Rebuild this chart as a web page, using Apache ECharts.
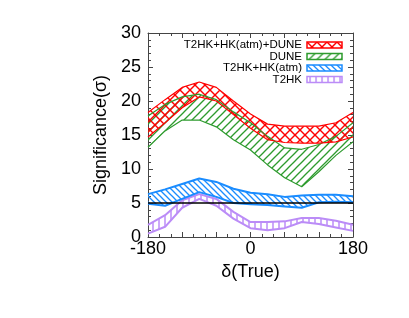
<!DOCTYPE html>
<html><head><meta charset="utf-8">
<script src="https://cdn.jsdelivr.net/npm/echarts@6/dist/echarts.min.js"></script>
<style>html,body{margin:0;padding:0;background:#fff}#c{width:409px;height:318px}</style>
</head><body><div id="c"></div>
<script>
// ---- data ----
const delta = [-180,-150,-120,-90,-60,-30,0,30,60,90,120,150,180];
const comboUpper = [18.3,20.2,22.0,22.8,22.0,20.0,18.1,16.6,16.3,16.3,16.3,16.8,18.3];
const comboLower = [14.7,16.8,19.0,20.6,20.0,18.0,16.0,14.3,13.9,13.8,13.8,14.0,14.7];
const duneUpper  = [17.8,19.5,20.6,21.0,20.2,18.4,16.8,14.8,13.1,12.9,13.6,14.8,16.8];
const duneLower  = [13.2,15.6,17.2,17.2,16.2,14.3,12.8,10.6,8.7,7.4,9.6,12.0,14.0];
const hkUpper    = [6.3,7.0,7.8,8.6,8.1,7.1,6.5,6.3,5.9,6.1,6.2,6.2,6.0];
const hkLower    = [4.9,4.6,5.6,6.6,5.9,5.0,4.8,4.7,4.5,4.3,5.1,5.2,5.1];
const t2hkUpper  = [1.8,3.2,5.4,6.3,5.6,3.7,2.2,2.2,2.3,2.8,2.8,2.4,1.8];
const t2hkLower  = [0.5,1.5,4.3,5.6,4.6,2.7,1.3,1.0,1.3,2.2,1.9,1.4,0.9];
const threshold = 5;
const seriesNames = ['T2HK+HK(atm)+DUNE','DUNE','T2HK+HK(atm)','T2HK'];
const xTickLabels = [-180,0,180];

// ---- patterns ----
function hatch(color, kind, s, lw){
  const c=document.createElement('canvas'); c.width=s; c.height=s;
  const g=c.getContext('2d'); g.strokeStyle=color; g.lineWidth=lw;
  const seg=(a,b,d,e)=>{g.beginPath();g.moveTo(a,b);g.lineTo(d,e);g.stroke();};
  if(kind.indexOf('/')>=0){seg(-1,s+1,s+1,-1);seg(-1,1,1,-1);seg(s-1,s+1,s+1,s-1);}
  if(kind.indexOf('\\')>=0){seg(-1,-1,s+1,s+1);seg(s-1,-1,s+1,1);seg(-1,s-1,1,s+1);}
  if(kind.indexOf('|')>=0){seg(s/2,0,s/2,s);}
  return {image:c, repeat:'repeat'};
}
const colors = ['#ff0000','#2e9b2e','#1a8cff','#bb8cf7'];
const widths = [1.2,1.2,2,2];
const pats = [hatch(colors[0],'/\\',10,1.4), hatch(colors[1],'/',8,1.3), hatch(colors[2],'\\',6,1.3), hatch(colors[3],'|',6,1.5)];
const bands = [[comboLower,comboUpper],[duneLower,duneUpper],[hkLower,hkUpper],[t2hkLower,t2hkUpper]];

const series = [];
[3,2,1,0].forEach(i=>{
  const lo=bands[i][0], up=bands[i][1];
  series.push({type:'custom', name:seriesNames[i], silent:true, z:2+(3-i),
    data: delta.map((d,k)=>[d,lo[k],up[k]]),
    encode:{x:0,y:[1,2]},
    renderItem:(params,api)=>{
      if(params.dataIndex!==0) return null;
      const pts=[];
      for(let k=0;k<delta.length;k++) pts.push(api.coord([delta[k],up[k]]));
      for(let k=delta.length-1;k>=0;k--) pts.push(api.coord([delta[k],lo[k]]));
      return {type:'polygon', shape:{points:pts}, style:{fill:pats[i], stroke:null}};
    }});
  [lo,up].forEach((arr,j)=>{
    series.push({type:'line', name:seriesNames[i]+(j?' upper':' lower'), symbol:'none', silent:true,
      data: delta.map((d,k)=>[d,arr[k]]), lineStyle:{color:colors[i],width:widths[i]}, z:3+(3-i)});
  });
});
series.push({type:'line', name:'5sigma', symbol:'none', silent:true,
  data:[[delta[0],threshold],[delta[delta.length-1],threshold]], lineStyle:{color:'#000',width:1.3}, z:10});

const font = 'Liberation Sans, Arial, Helvetica, sans-serif';
const axisCol = '#444';

// legend drawn as graphic (text right-aligned, swatch on the right)
const legendGraphic = [];
const legRows = [45,56.5,68,79.5];
seriesNames.forEach((n,i)=>{
  legendGraphic.push({type:'text', x:302, y:legRows[i], silent:true,
    style:{text:n, fontFamily:font, fontSize:11.5, fill:'#000', align:'right', verticalAlign:'middle'}});
  legendGraphic.push({type:'rect', x:307, y:legRows[i]-3, silent:true,
    shape:{width:35,height:6}, style:{fill:pats[i], stroke:colors[i], lineWidth:1.5}});
});

const tickCommon = (minorSplit)=>({
  axisLine:{show:true,onZero:false,lineStyle:{color:axisCol,width:1}},
  axisTick:{show:true,inside:true,length:5,lineStyle:{color:axisCol}},
  minorTick:{show:true,splitNumber:minorSplit,length:3,lineStyle:{color:axisCol}},
  splitLine:{show:false}
});

const chart = echarts.init(document.getElementById('c'), null, {renderer:'canvas'});
chart.setOption({
  animation:false,
  backgroundColor:'#fff',
  grid:{left:148,right:56,top:33,bottom:81},
  graphic: legendGraphic,
  xAxis:[Object.assign({
    type:'value', min:-180, max:180, interval:60, position:'bottom',
    name:'δ(True)', nameLocation:'middle', nameGap:23,
    nameTextStyle:{fontFamily:font, fontSize:18, color:'#000'},
    axisLabel:{fontFamily:font,fontSize:18,color:'#000',margin:3,
      formatter:v=>xTickLabels.indexOf(v)>=0?String(v):''}
  },tickCommon(3)),Object.assign({
    type:'value', min:-180, max:180, interval:60, position:'top',
    axisLabel:{show:false}
  },tickCommon(3))],
  yAxis:[Object.assign({
    type:'value', min:0, max:30, interval:5, position:'left',
    name:'Significance(σ)', nameLocation:'middle', nameGap:28,
    nameTextStyle:{fontFamily:font, fontSize:18, color:'#000'},
    axisLabel:{fontFamily:font,fontSize:18,color:'#000',margin:7}
  },tickCommon(5)),Object.assign({
    type:'value', min:0, max:30, interval:5, position:'right',
    axisLabel:{show:false}
  },tickCommon(5))],
  series: series
});
</script></body></html>
